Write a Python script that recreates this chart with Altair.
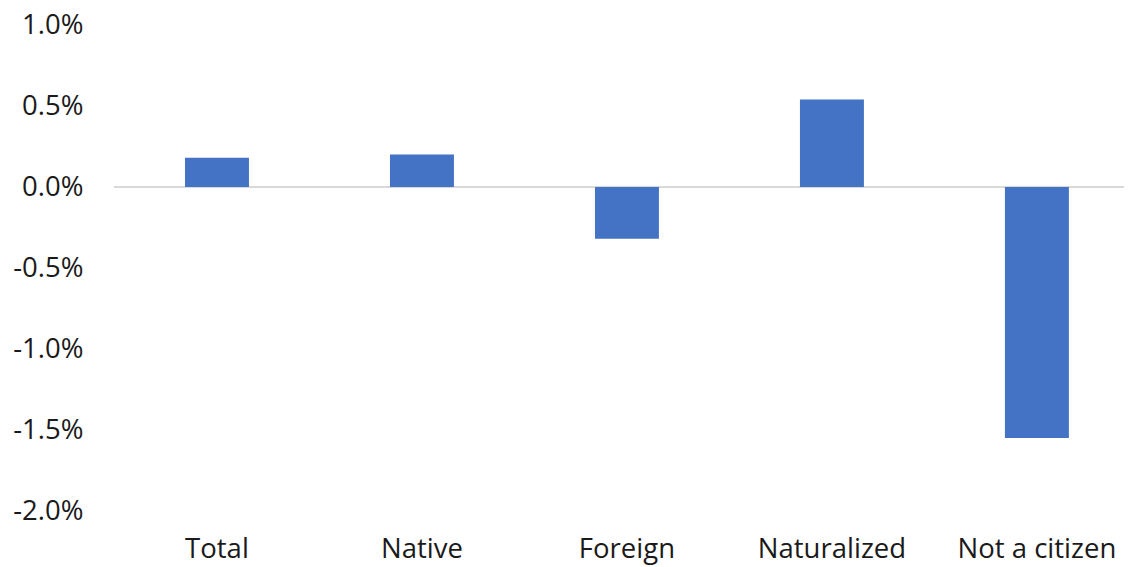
import altair as alt
import pandas as pd

categories = ["Total", "Native", "Foreign", "Naturalized", "Not a citizen"]
values = [0.0018, 0.0020, -0.0032, 0.0054, -0.0155]

df = pd.DataFrame({"category": categories, "value": values})

FONT = "Open Sans"
FS = 27.5

bars = alt.Chart(df).mark_bar(color="#4472C4").encode(
    x=alt.X("category:N", sort=categories, title=None,
            scale=alt.Scale(paddingInner=0.688, paddingOuter=0.3076, align=0.563),
            axis=alt.Axis(orient="bottom", labelAngle=0, ticks=False, domain=False,
                          labelPadding=24, labelFontSize=FS, labelFont=FONT,
                          labelColor="#1a1a1a", grid=False)),
    y=alt.Y("value:Q", title=None,
            scale=alt.Scale(domain=[-0.02, 0.01], nice=False, zero=False),
            axis=alt.Axis(values=[-0.02, -0.015, -0.01, -0.005, 0, 0.005, 0.01],
                          labelExpr="(datum.value < 0 ? '-' : '') + format(abs(datum.value), '.1%')",
                          ticks=False, domain=False, grid=False, labelPadding=31,
                          labelFontSize=FS, labelFont=FONT, labelColor="#1a1a1a")),
)

zero = alt.Chart(df).mark_rule(color="#D9D9D9", strokeWidth=2).encode(
    y=alt.datum(0)
)

chart = alt.layer(zero, bars).properties(
    width=1010, height=486,
    autosize=alt.AutoSizeParams(type="none"),
    padding={"left": 106, "top": 17, "right": 0, "bottom": 56},
).configure_view(stroke=None)

chart.save("out.html", embed_options={"renderer": "svg", "actions": False})
